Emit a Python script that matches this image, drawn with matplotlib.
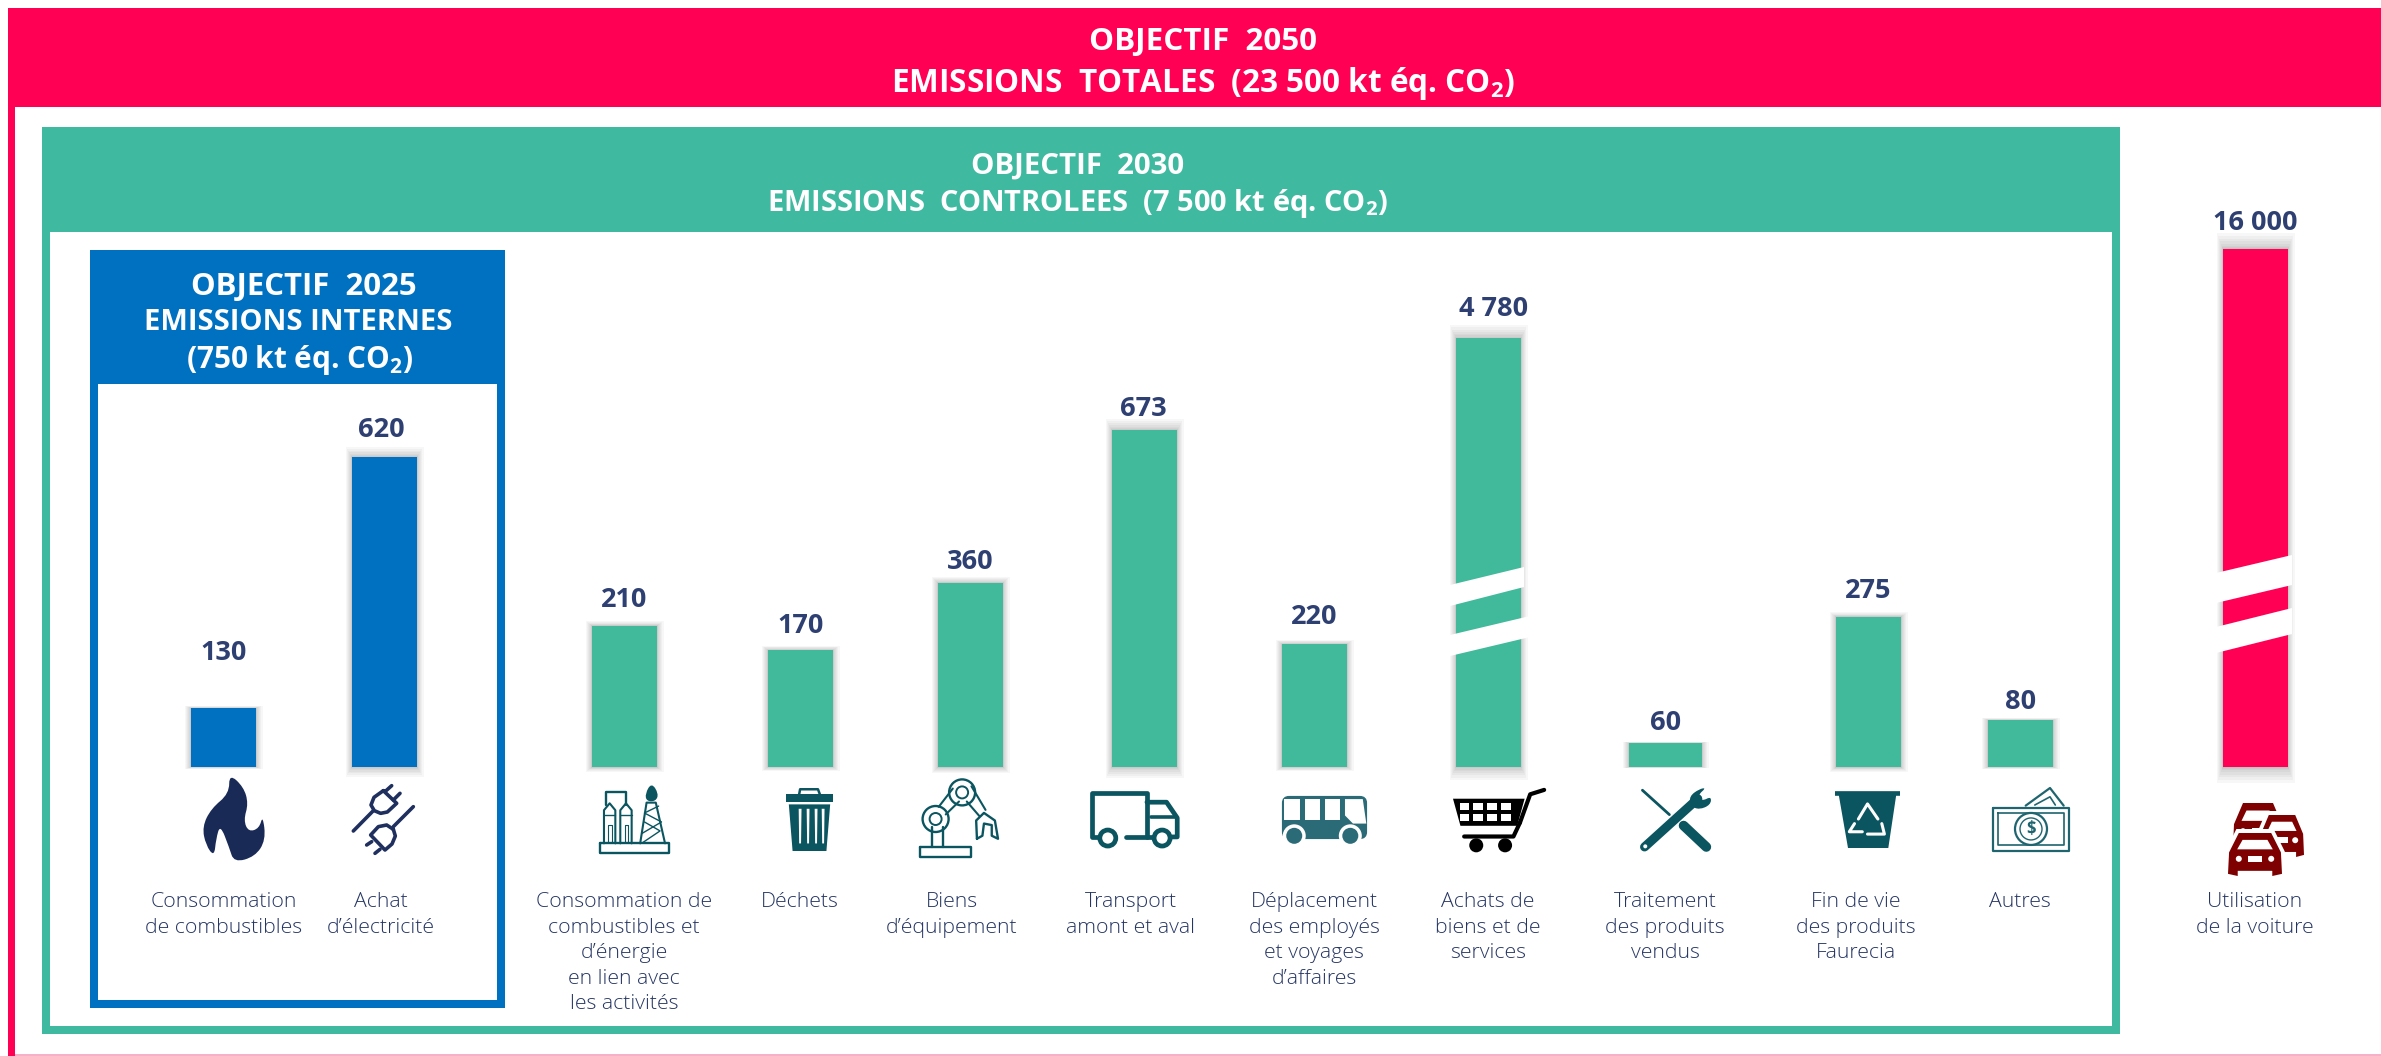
import matplotlib
matplotlib.use('Agg')
import matplotlib.pyplot as plt
from matplotlib.patches import Rectangle, Polygon, Circle, PathPatch, FancyBboxPatch
from matplotlib.path import Path

W, H = 2381, 1056
BASE = 767  # pixel row of the common bar baseline

# data
categories = ['Consommation\nde combustibles', 'Achat\nd’électricité',
              'Consommation de\ncombustibles et\nd’énergie\nen lien avec\nles activités',
              'Déchets', 'Biens\nd’équipement', 'Transport\namont et aval',
              'Déplacement\ndes employés\net voyages\nd’affaires', 'Achats de\nbiens et de\nservices',
              'Traitement\ndes produits\nvendus', 'Fin de vie\ndes produits\nFaurecia', 'Autres',
              'Utilisation\nde la voiture']
emissions = [130, 620, 210, 170, 360, 673, 220, 4780, 60, 275, 80, 16000]
# the picture is not to scale: height each bar is really drawn with
drawn_height = [118, 620, 282, 234, 368, 674, 246, 858, 48, 300, 94, 1036]
groups = ['blue', 'blue', 'teal', 'teal', 'teal', 'teal', 'teal', 'teal', 'teal', 'teal', 'teal', 'red']

# layout
bar_x = [223.5, 384.5, 624.5, 800.5, 970.5, 1144.5, 1314.5, 1488.5, 1665.5, 1868.5, 2020.5, 2255.5]
bar_w = [65, 65, 65, 65, 65, 65, 65, 65, 73, 65, 65, 65]
label_x = [224, 381, 624, 800, 952, 1131, 1314, 1488, 1665, 1856, 2020, 2255]
value_dx = [0, -3, 0, 0, 0, -1, 0, 5, 0, 0, 0, 0]
value_gap = [55, 27, 26, 24, 21, 21, 27, 29, 20, 26, 18, 26]  # px, label centre above bar top

RED, TEAL, BLUE = '#FF0055', '#40B9A1', '#0070C0'
BAR_COL = {'blue': BLUE, 'teal': '#41BA9B', 'red': RED}
NAVY = '#2E3F72'
DTEAL = '#0B5560'
FONT = 'Open Sans'

plt.rcParams['mathtext.default'] = 'regular'
fig = plt.figure(figsize=(W / 100, H / 100), dpi=100, facecolor='w')

ax = fig.add_axes([0, 0, 1, 1], zorder=1)
ax.set_xlim(0, W)
ax.set_ylim(H, 0)
ax.axis('off')

# bars live in their own axes: y = 0 on the baseline, two units to a pixel
ax_bars = fig.add_axes([0, 0, 1, 1], zorder=2)
ax_bars.set_xlim(0, W)
ax_bars.set_ylim(-(H - BASE) * 2, BASE * 2)
ax_bars.axis('off')
ax_bars.patch.set_alpha(0)


def rect(x0, y0, x1, y1, color, z=1):
  ax.add_patch(Rectangle((x0, y0), x1 - x0, y1 - y0, fc=color, ec='none', zorder=z))


# frames
rect(8, 8, W, 107, RED)
rect(8, 107, 15, H, RED)
rect(15, 1054, W, H, '#F6B0C8')
rect(42, 127, 2120, 1034, TEAL, 2)
rect(50, 232, 2112, 1026, 'w', 3)
rect(90, 250, 505, 1008, BLUE, 4)
rect(98, 384, 497, 1000, 'w', 5)


def head(x, y, lines, sizes):
  for i, s in enumerate(lines):
    ax.text(x[i], y[i], s, color='w', fontsize=sizes[i], fontweight='bold', family=FONT,
            ha='center', va='center', zorder=6)


head([1203, 1203], [42, 83], ['OBJECTIF  2050', 'EMISSIONS  TOTALES  (23 500 kt éq. CO$_2$)'], [22.6, 22.7])
head([1078, 1078], [166, 203], ['OBJECTIF  2030', 'EMISSIONS  CONTROLEES  (7 500 kt éq. CO$_2$)'], [21.2, 20.9])
head([304, 298, 300], [287, 323, 360], ['OBJECTIF  2025', 'EMISSIONS INTERNES', '(750 kt éq. CO$_2$)'], [22.4, 21, 21.4])

# bars with a soft shadow
colors = [BAR_COL[g] for g in groups]
STEPS = 8
for k in range(1, STEPS + 1):
  f = (k / STEPS) ** 1.6
  ext = [(1 + 0.03 * h) * f for h in drawn_height]
  ax_bars.bar(bar_x, [h + 2 * e for h, e in zip(drawn_height, ext)],
              [w + 13 * f for w in bar_w], bottom=[-e for e in ext],
              color='k', alpha=0.03, linewidth=0)
ax_bars.bar(bar_x, drawn_height, bar_w, color=colors, linewidth=0)

# value labels and category labels
for i, v in enumerate(emissions):
  txt = f'{v:,}'.replace(',', ' ')
  ax_bars.annotate(txt, (bar_x[i] + value_dx[i], drawn_height[i]), xytext=(0, value_gap[i] * 0.72),
                   textcoords='offset points', ha='center', va='center', color=NAVY,
                   fontsize=19.5, fontweight='bold', family=FONT)
  ax.text(label_x[i], 892, categories[i], ha='center', va='top', color='#263664', fontsize=15.3,
          family=FONT, fontweight='light', linespacing=1.37, zorder=6)

# axis breaks on the two tall bars
breaks = [[(1450, 585), (1524, 567), (1524, 587), (1450, 606)],
          [(1450, 635), (1530, 616), (1530, 637), (1450, 656)],
          [(2216, 573), (2292, 555), (2292, 585), (2216, 603)],
          [(2216, 627), (2292, 608), (2292, 634), (2216, 653)]]
for b in breaks:
  ax_bars.add_patch(Polygon(b, fc='w', ec='none', transform=ax.transData, zorder=5))


# icons: each is drawn in a 0-1 box mapped on its pixel box
def mapper(x0, y0, x1, y1):
  return lambda pts: [(x0 + (x1 - x0) * u, y0 + (y1 - y0) * v) for u, v in pts]


def poly(m, pts, c, z=7):
  ax.add_patch(Polygon(m(pts), fc=c, ec='none', zorder=z))


def line(m, pts, c, lw=1.6, z=7):
  p = m(pts)
  ax.plot([a for a, _ in p], [b for _, b in p], color=c, lw=lw, zorder=z, solid_capstyle='round',
          solid_joinstyle='round')


def ring(m, u, v, r, c, lw=1.6, fc='none', z=7):
  x, y = m([(u, v)])[0]
  ax.add_patch(Circle((x, y), r, fc=fc, ec=c, lw=lw, zorder=z))


def smooth(m, pts, c, z=7):
  p = m(pts)
  verts, codes = [], []
  mid = lambda a, b: ((a[0] + b[0]) / 2, (a[1] + b[1]) / 2)
  n = len(p)
  verts.append(mid(p[-1], p[0]))
  codes.append(Path.MOVETO)
  for i in range(n):
    verts += [p[i], mid(p[i], p[(i + 1) % n])]
    codes += [Path.CURVE3, Path.CURVE3]
  ax.add_patch(PathPatch(Path(verts, codes), fc=c, ec='none', zorder=z))


# flame
m = mapper(204, 777, 264, 860)
smooth(m, [(.42, -.04), (.66, .12), (.74, .32), (.66, .52), (.74, .66), (.92, .62), (.98, .46), (1.03, .76),
           (.85, .96), (.5, 1.03), (.42, .85), (.27, .57), (.2, .75), (.17, .96), (.03, .82), (-.03, .6),
           (.12, .38), (.42, .2)], '#1A2A57')

# plugs, box taken from a 330x300 crop
m = mapper(330, 770, 440, 870)
c = '#1F2F5E'
z3 = lambda pts: [(a / 330, b / 300) for a, b in pts]
line(m, z3([(70, 183), (130, 122)]), c, 2.6)
line(m, z3([(250, 110), (190, 170)]), c, 2.6)
line(m, z3([(160, 62), (132, 82), (123, 105), (133, 122), (152, 130), (172, 126), (200, 100), (160, 62)]), c, 2.6)
line(m, z3([(190, 178), (196, 198), (186, 222), (165, 240), (122, 195), (145, 170), (170, 165), (190, 178)]), c, 2.6)
line(m, z3([(165, 65), (185, 47)]), c, 2.6)
line(m, z3([(190, 90), (210, 70)]), c, 2.6)
line(m, z3([(125, 215), (110, 225)]), c, 2.6)
line(m, z3([(150, 238), (135, 250)]), c, 2.6)

# refinery
m = mapper(599, 784, 670, 853)
c = DTEAL
line(m, [(.02, .86), (.98, .86), (.98, 1), (.02, 1), (.02, .86)], c, 1.7)
for u in (.07, .3):
  line(m, [(u, .86), (u, .38), (u + .08, .28), (u + .16, .38), (u + .16, .86)], c, 1.5)
  line(m, [(u, .45), (u + .16, .45)], c, 1)
  line(m, [(u + .06, .86), (u + .06, .6), (u + .11, .6), (u + .11, .86)], c, 0.8)
line(m, [(.1, .3), (.1, .12), (.38, .12), (.38, .3)], c, 1.7)
line(m, [(.58, .86), (.67, .27), (.8, .27), (.93, .86)], c, 1.5)
line(m, [(.6, .72), (.88, .55), (.64, .42), (.84, .32)], c, 1)
line(m, [(.6, .86), (.86, .68), (.64, .55)], c, 1)
smooth(m, [(.74, -.02), (.84, .14), (.8, .25), (.67, .25), (.65, .14)], c)

# trash can
m = mapper(786, 788, 833, 851)
poly(m, [(0, .1), (1, .1), (1, .22), (0, .22)], DTEAL)
line(m, [(.28, .1), (.3, .02), (.68, .02), (.72, .1)], DTEAL, 1.8)
poly(m, [(.06, .26), (.94, .26), (.86, 1), (.14, 1)], DTEAL)
for u in (.27, .44, .61, .76):
  poly(m, [(u, .33), (u + .06, .33), (u + .05, .88), (u + .01, .88)], 'w', 8)

# robot arm
m = mapper(920, 781, 998, 857)
c = DTEAL
line(m, [(0, .87), (.66, .87), (.66, 1), (0, 1), (0, .87)], c, 1.7)
line(m, [(.15, .87), (.15, .6)], c, 1.7)
line(m, [(.29, .87), (.29, .6)], c, 1.7)
ring(m, .2, .5, 13, c, 1.7)
ring(m, .2, .5, 6, c, 1.4)
ring(m, .54, .15, 13, c, 1.7)
ring(m, .54, .15, 6, c, 1.4)
line(m, [(.24, .34), (.42, .1)], c, 1.5)
line(m, [(.33, .44), (.5, .27)], c, 1.5)
line(m, [(.66, .07), (.84, .38)], c, 1.5)
line(m, [(.6, .27), (.76, .46)], c, 1.5)
line(m, [(.73, .76), (.72, .52), (.82, .42), (.96, .52), (1, .76), (.92, .72), (.92, .58), (.82, .56), (.8, .72), (.73, .76)], c, 1.7)

# truck
m = mapper(1090, 791, 1179, 847)
line(m, [(.24, .82), (.02, .82), (.02, .03), (.64, .03), (.64, .82), (.4, .82)], c, 3.4)
line(m, [(.64, .2), (.86, .2), (.98, .48), (.98, .82), (.92, .82)], c, 3.4)
line(m, [(.76, .82), (.64, .82)], c, 3.4)
line(m, [(.68, .46), (.96, .46)], c, 2.6)
ring(m, .2, .84, 8, c, 3.4, fc='w')
ring(m, .81, .84, 8, c, 3.4, fc='w')

# bus
m = mapper(1280, 794, 1369, 845)
c = '#2B6B77'
ax.add_patch(FancyBboxPatch((1284, 798), 81, 39, boxstyle='round,pad=0,rounding_size=5', fc=c, ec=c, lw=3, zorder=7))
for u0, u1 in ((.05, .22), (.28, .45), (.5, .67)):
  poly(m, [(u0, .1), (u1, .1), (u1, .5), (u0, .5)], 'w', 8)
poly(m, [(.73, .1), (.93, .1), (.97, .58), (.82, .58), (.73, .42)], 'w', 8)
for u in (.16, .79):
  ring(m, u, .82, 11.5, 'w', 0, fc='w', z=8)
  ring(m, u, .82, 8, c, 0, fc=c, z=9)

# cart
m = mapper(1453, 788, 1546, 851)
c = 'k'
poly(m, [(0, .17), (.77, .17), (.69, .6), (.08, .6)], c)
for v0 in (.24, .41):
  for u0 in (.07, .22, .37, .52):
    poly(m, [(u0, v0), (u0 + .1, v0), (u0 + .1, v0 + .11), (u0, v0 + .11)], 'w', 8)
line(m, [(.72, .55), (.65, .77), (.12, .77)], c, 3)
line(m, [(.72, .55), (.83, .1), (.98, .03)], c, 3)
ring(m, .25, .91, 7, c, 0, fc=c)
ring(m, .56, .91, 7, c, 0, fc=c)

# screwdriver and wrench
m = mapper(1641, 789, 1712, 850)
c = DTEAL
line(m, [(.02, .02), (.4, .42)], c, 2)
line(m, [(.6, .6), (.92, .95)], c, 7)
line(m, [(.05, .95), (.8, .16)], c, 6.5)
smooth(m, [(.68, .12), (.82, 0), (.92, -.02), (.8, .1), (.86, .2), (.99, .12), (.98, .26), (.82, .34), (.7, .28)], c)
ring(m, .06, .94, 2, 'w', 0, fc='w', z=8)

# recycling bin
m = mapper(1835, 790, 1900, 848)
poly(m, [(0, .02), (1, .02), (1, .1), (.94, .1), (.82, 1), (.2, 1), (.06, .1), (0, .1)], DTEAL)
line(m, [(.36, .5), (.5, .24), (.66, .5)], 'w', 2.2, 8)
line(m, [(.3, .58), (.22, .72), (.42, .72)], 'w', 2.2, 8)
line(m, [(.5, .76), (.76, .76), (.72, .58)], 'w', 2.2, 8)

# banknotes
m = mapper(1993, 788, 2069, 851)
c = '#1E6570'
line(m, [(0, .31), (1, .31), (1, 1), (0, 1), (0, .31)], c, 1.6)
line(m, [(.07, .4), (.93, .4), (.93, .9), (.07, .9), (.07, .4)], c, 1.2)
line(m, [(.43, .28), (.75, 0), (.93, .28)], c, 1.6)
line(m, [(.55, .27), (.75, .14), (.82, .27)], c, 1.2)
ring(m, .5, .65, 16, c, 1.6)
ring(m, .5, .65, 11, c, 1)
ax.text(2031, 829, '$', ha='center', va='center', color=c, fontsize=12, family=FONT, fontweight='bold', zorder=8)


# three cars
def car(x0, y0, x1, y1, z):
  m = mapper(x0, y0, x1, y1)
  c = '#7F0000'
  body = [(.2, 0), (.8, 0), (.98, .45), (1, .95), (.82, 1), (.82, .88), (.18, .88), (.18, 1), (0, .95), (.02, .45)]
  poly(mapper(x0 - 4, y0 - 4, x1 + 4, y1 + 3), [(.2, 0), (.8, 0), (.98, .45), (1, 1), (0, 1), (.02, .45)], 'w', z)
  poly(m, body, c, z)
  poly(m, [(.27, .16), (.73, .16), (.83, .38), (.17, .38)], 'w', z)
  ring(m, .2, .6, 3, 'w', 0, fc='w', z=z)
  ring(m, .8, .6, 3, 'w', 0, fc='w', z=z)
  poly(m, [(.37, .53), (.63, .53), (.63, .67), (.37, .67)], 'w', z)


car(2233, 803, 2283, 850, 7)
car(2260, 815, 2304, 857, 9)
car(2228, 833, 2282, 876, 11)

fig.savefig('out.png', dpi=100, facecolor='w')
